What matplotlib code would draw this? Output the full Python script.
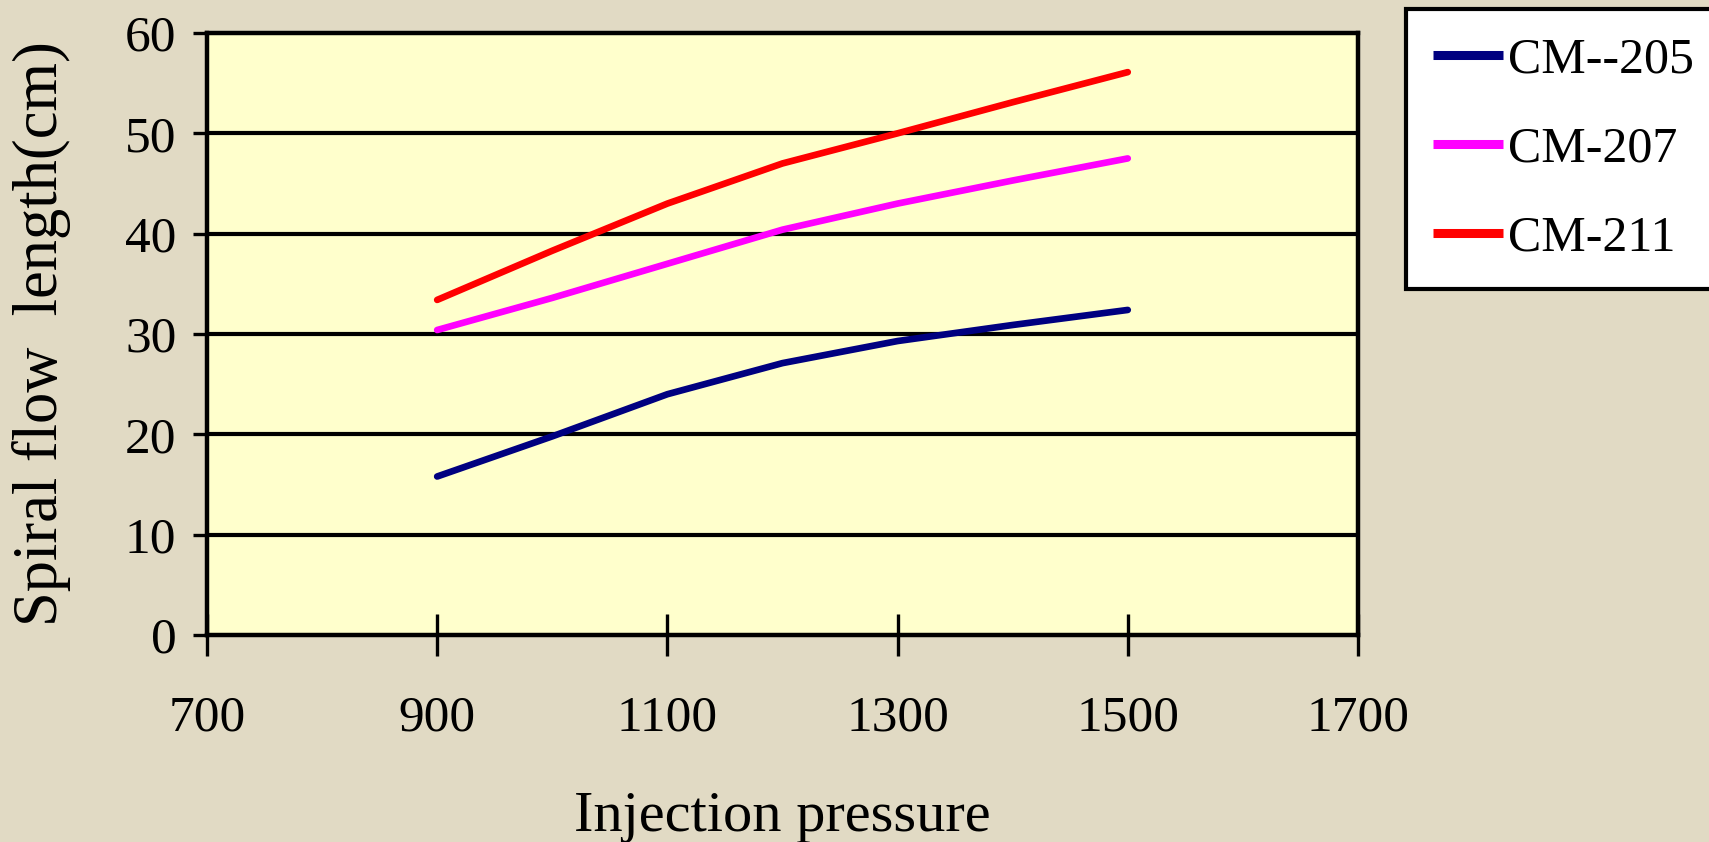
import matplotlib
matplotlib.use("Agg")
import matplotlib.pyplot as plt

# injection pressure values
pressure = [900, 1000, 1100, 1200, 1300, 1400, 1500]

cm205 = [15.8, 19.8, 24.0, 27.1, 29.3, 30.9, 32.4]
cm207 = [30.4, 33.6, 37.0, 40.4, 43.0, 45.3, 47.5]
cm211 = [33.4, 38.3, 43.0, 47.0, 50.0, 53.1, 56.1]

series_labels = ["CM--205", "CM-207", "CM-211"]
series_colors = ["#000080", "#FF00FF", "#FF0000"]

x_ticks = [700, 900, 1100, 1300, 1500, 1700]
y_ticks = [0, 10, 20, 30, 40, 50, 60]

plt.rcParams["font.family"] = ["Liberation Serif", "DejaVu Serif"]

fig = plt.figure(figsize=(17.09, 8.42), dpi=100)
fig.patch.set_facecolor("#E1DAC4")

ax = fig.add_axes([0.1211, 0.2458, 0.6735, 0.715])
ax.set_facecolor("#FFFFCC")

for vals, lab, col in zip([cm205, cm207, cm211], series_labels, series_colors):
    ax.plot(pressure, vals, color=col, lw=4.8, label=lab,
            solid_capstyle="round", solid_joinstyle="round", zorder=3)

ax.set_xlim(700, 1700)
ax.set_ylim(0, 60)
ax.set_xticks(x_ticks)
ax.set_yticks(y_ticks)

# horizontal gridlines
for y in y_ticks[1:-1]:
    ax.axhline(y, color="black", lw=3.0, zorder=1)

for s in ax.spines.values():
    s.set_linewidth(3.2)
    s.set_color("black")

ax.tick_params(axis="x", direction="inout", length=30, width=2.4,
               labelsize=37, pad=28)
ax.tick_params(axis="y", direction="out", length=10, width=2.4,
               labelsize=37, pad=12)

ax.set_xlabel("Injection pressure", fontsize=42, labelpad=36)
ax.set_ylabel("Spiral flow  length(cm)", fontsize=45)
ax.yaxis.set_label_coords(-0.118, 0.5)

leg = ax.legend(loc="upper left", bbox_to_anchor=(0.8227, 0.4, 0.2, 0.589),
                bbox_transform=fig.transFigure, borderaxespad=0,
                mode="expand", fontsize=36, handlelength=1.4,
                handletextpad=0.1, labelspacing=0.85, borderpad=0.55,
                fancybox=False, framealpha=1)
leg.get_frame().set_edgecolor("black")
leg.get_frame().set_linewidth(3.0)
for line in leg.get_lines():
    line.set_linewidth(6.5)
    line.set_solid_capstyle("butt")

fig.savefig("out.png", dpi=100, facecolor=fig.get_facecolor())
